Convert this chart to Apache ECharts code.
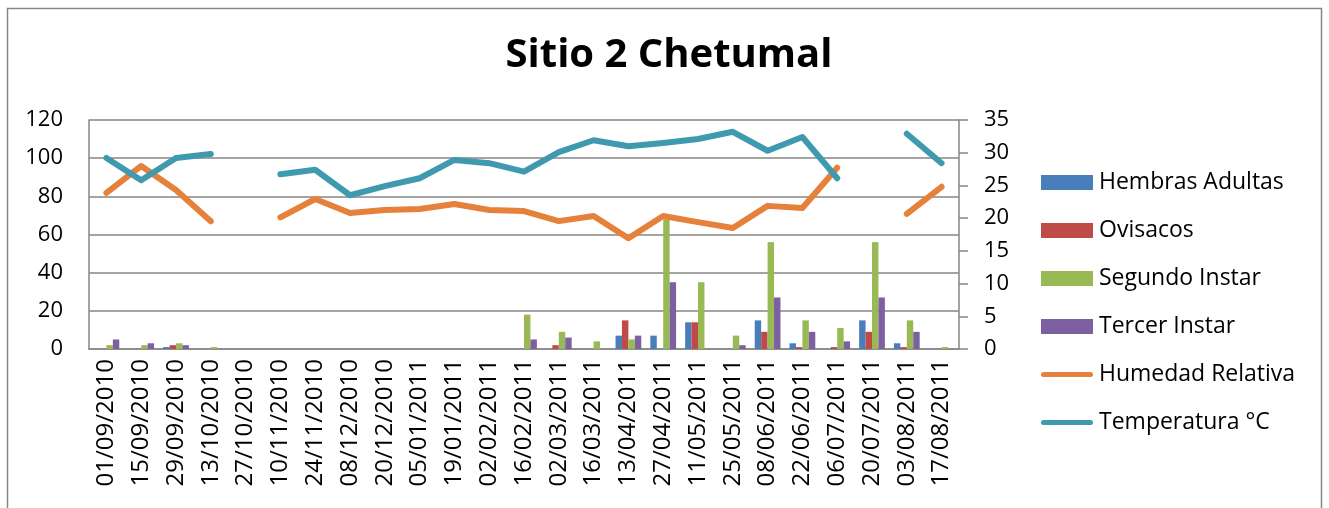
<!DOCTYPE html>
<html>
<head>
    <meta charset="utf-8">
    <title>Sitio 2 Chetumal</title>
    <script src="https://cdn.jsdelivr.net/npm/echarts@6/dist/echarts.min.js"></script>
    <style>
        html, body { margin: 0; padding: 0; background: #fff; }
        #main { width: 1329px; height: 508px; }
    </style>
</head>
<body>
    <div id="main"></div>
    <script>
    var fechas = ['01/09/2010', '15/09/2010', '29/09/2010', '13/10/2010', '27/10/2010',
        '10/11/2010', '24/11/2010', '08/12/2010', '20/12/2010', '05/01/2011',
        '19/01/2011', '02/02/2011', '16/02/2011', '02/03/2011', '16/03/2011',
        '13/04/2011', '27/04/2011', '11/05/2011', '25/05/2011', '08/06/2011',
        '22/06/2011', '06/07/2011', '20/07/2011', '03/08/2011', '17/08/2011'];

    var hembras = [0, 0, 1, 0, 0, 0, 0, 0, 0, 0, 0, 0, 0, 0, 0, 7, 7, 14, 0, 15, 3, 0, 15, 3, 0];
    var ovisacos = [0, 0, 2, 0, 0, 0, 0, 0, 0, 0, 0, 0, 0, 2, 0, 15, 0, 14, 0, 9, 1, 1, 9, 1, 0];
    var segundo = [2, 2, 3, 1, 0, 0, 0, 0, 0, 0, 0, 0, 18, 9, 4, 5, 68, 35, 7, 56, 15, 11, 56, 15, 1];
    var tercer = [5, 3, 2, 0, 0, 0, 0, 0, 0, 0, 0, 0, 5, 6, 0, 7, 35, 0, 2, 27, 9, 4, 27, 9, 0];
    var humedad = [81.8, 95.9, 83.3, 67, null, 69, 78.6, 71.3, 72.8, 73.4, 76, 72.8, 72.3,
        67, 69.7, 58, 69.7, 66.5, 63.4, 75, 73.9, 95, null, 70.8, 85];
    var temperatura = [29.2, 25.8, 29.2, 29.8, null, 26.7, 27.4, 23.5, 24.9, 26.1, 28.9, 28.4, 27.1,
        30.1, 31.9, 31.0, 31.5, 32.1, 33.2, 30.3, 32.4, 26.1, null, 32.9, 28.4];

    var gris = '#868686';
    var txt = { color: '#000', fontFamily: 'Open Sans', fontSize: 22 };
    // icono de linea para la leyenda
    var iconoLinea = 'path://M2.5,0 L49.5,0 A2.5,2.5 0 0 1 49.5,5 L2.5,5 A2.5,2.5 0 0 1 2.5,0 Z';

    var myChart = echarts.init(document.getElementById('main'));

    function barra(nombre, datos, color) {
        return {
            name: nombre, type: 'bar', yAxisIndex: 0, data: datos,
            barGap: '0%', barCategoryGap: '26%',
            itemStyle: { color: color }
        };
    }

    function linea(nombre, datos, color, eje) {
        return {
            name: nombre, type: 'line', yAxisIndex: eje, data: datos,
            symbol: 'none', connectNulls: false,
            lineStyle: { color: color, width: 6, cap: 'round', join: 'round' },
            itemStyle: { color: color }
        };
    }

    var option = {
        animation: false,
        title: {
            text: 'Sitio 2 Chetumal',
            left: 664, top: 31, textAlign: 'center',
            textStyle: { fontFamily: 'Open Sans', fontWeight: 'bold', fontSize: 40, color: '#000' }
        },
        graphic: [{
            type: 'rect', shape: { x: 7.5, y: 8.5, width: 1314, height: 510 },
            style: { fill: null, stroke: gris, lineWidth: 1.5 }, silent: true
        }],
        legend: {
            orient: 'vertical', left: 1036, top: 166, itemGap: 25,
            itemWidth: 52, itemHeight: 15,
            textStyle: { color: '#000', fontFamily: 'Open Sans', fontSize: 23, padding: [0, 0, 0, 1] },
            data: [
                { name: 'Hembras Adultas', icon: 'rect' },
                { name: 'Ovisacos', icon: 'rect' },
                { name: 'Segundo Instar', icon: 'rect' },
                { name: 'Tercer Instar', icon: 'rect' },
                { name: 'Humedad Relativa', icon: iconoLinea },
                { name: 'Temperatura °C', icon: iconoLinea }
            ]
        },
        grid: { left: 89, right: 370, top: 120, bottom: 159 },
        xAxis: {
            type: 'category', data: fechas,
            axisLine: { lineStyle: { color: gris, width: 1.5 } },
            axisTick: { show: false },
            axisLabel: { rotate: 90, interval: 0, margin: 10, color: '#000', fontFamily: 'Open Sans', fontSize: 24 }
        },
        yAxis: [{
            type: 'value', min: 0, max: 120, interval: 20,
            axisLine: { show: true, lineStyle: { color: gris, width: 1.5 } },
            axisTick: { show: false },
            splitLine: { lineStyle: { color: gris, width: 1.5 } },
            axisLabel: Object.assign({ margin: 26 }, txt)
        }, {
            type: 'value', min: 0, max: 35, interval: 5,
            axisLine: { show: true, lineStyle: { color: gris, width: 1.5 } },
            axisTick: { show: true, length: 9, lineStyle: { color: gris, width: 1.5 } },
            splitLine: { show: false },
            axisLabel: Object.assign({ margin: 25 }, txt)
        }],
        series: [
            barra('Hembras Adultas', hembras, '#4a7ebb'),
            barra('Ovisacos', ovisacos, '#be4b48'),
            barra('Segundo Instar', segundo, '#98b954'),
            barra('Tercer Instar', tercer, '#7d60a0'),
            linea('Humedad Relativa', humedad, '#e5813a', 0),
            linea('Temperatura °C', temperatura, '#409aaf', 1)
        ]
    };
    myChart.setOption(option);
    </script>
</body>
</html>
